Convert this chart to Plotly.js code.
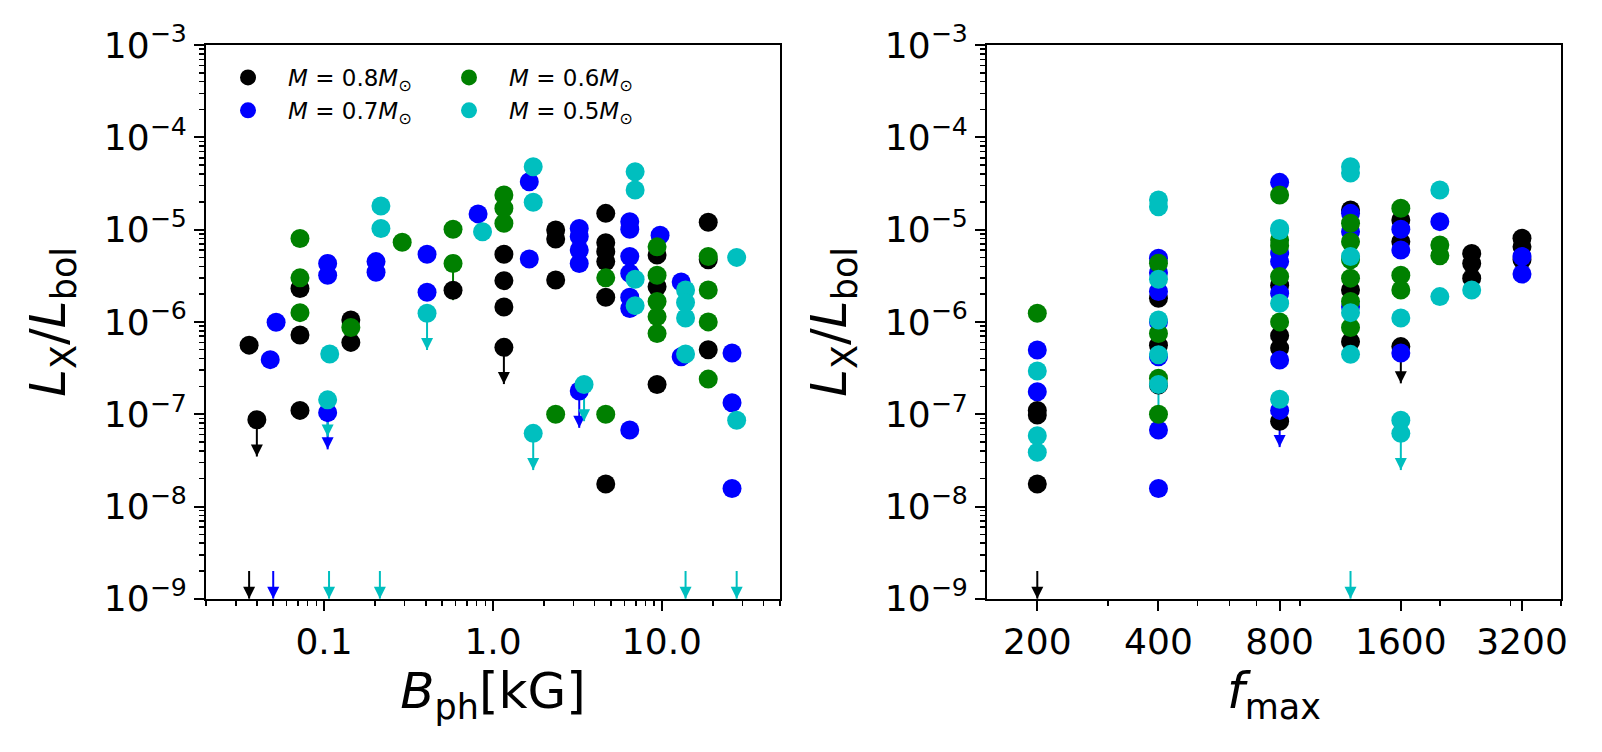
<!DOCTYPE html>
<html>
<head>
<meta charset="utf-8">
<script src="https://cdn.plot.ly/plotly-3.0.1.min.js"></script>
<style>
  html, body { margin: 0; padding: 0; background: #fff; }
  #chart { width: 1602px; height: 752px; }
</style>
</head>
<body>
<div id="chart"></div>
<script>
// L_X/L_bol against photospheric field (left) and f_max (right), by stellar mass.
// Upper limits (_ul) carry a down arrow; non-detections (_nd) are arrows on the bottom axis.

// ---- left panel: B_ph [kG] ----
const bph_08 = [0.036, 0.072, 0.072, 0.072, 0.144, 0.144, 0.58, 1.16, 1.16, 1.16, 2.35, 2.35, 2.35,
  4.65, 4.65, 4.65, 4.65, 4.65, 4.65, 9.36, 9.36, 9.36, 18.8, 18.8, 18.8];
const lx_08 = [5.6e-7, 2.3e-6, 7.2e-7, 1.1e-7, 1.05e-6, 6.0e-7, 2.2e-6, 5.4e-6, 2.8e-6, 1.45e-6, 9.9e-6, 7.9e-6, 2.85e-6,
  1.5e-5, 7.2e-6, 5.8e-6, 4.5e-6, 1.85e-6, 1.75e-8, 5.3e-6, 2.4e-6, 2.1e-7, 1.2e-5, 4.7e-6, 5.0e-7];
const bph_08_ul = [0.040, 1.16];
const lx_08_ul = [8.7e-8, 5.3e-7];
const bph_08_nd = [0.036];

const bph_07 = [0.048, 0.052, 0.105, 0.105, 0.203, 0.203, 0.407, 0.407, 0.816, 1.64, 1.64, 3.24, 3.24, 3.24, 3.24,
  6.45, 6.45, 6.45, 6.45, 6.45, 6.45, 6.45, 9.75, 13.0, 13.0, 26.0, 26.0, 26.0];
const lx_07 = [3.9e-7, 9.9e-7, 4.3e-6, 3.2e-6, 4.5e-6, 3.45e-6, 5.4e-6, 2.1e-6, 1.48e-5, 3.3e-5, 4.8e-6, 1.03e-5, 8.4e-6, 6.0e-6, 4.3e-6,
  1.22e-5, 1.01e-5, 5.1e-6, 3.36e-6, 1.85e-6, 1.4e-6, 6.75e-8, 8.7e-6, 2.7e-6, 4.2e-7, 4.6e-7, 1.33e-7, 1.57e-8];
const bph_07_ul = [0.105, 3.24];
const lx_07_ul = [1.04e-7, 1.78e-7];
const bph_07_nd = [0.05];

const bph_06 = [0.072, 0.072, 0.072, 0.144, 0.29, 0.58, 1.16, 1.16, 1.16, 2.35, 4.65, 4.65,
  9.36, 9.36, 9.36, 9.36, 9.36, 18.8, 18.8, 18.8, 18.8];
const lx_06 = [8.0e-6, 3.0e-6, 1.26e-6, 8.7e-7, 7.3e-6, 1.01e-5, 2.37e-5, 1.7e-5, 1.17e-5, 1.0e-7, 3.0e-6, 1.0e-7,
  6.5e-6, 3.2e-6, 1.66e-6, 1.14e-6, 7.5e-7, 5.1e-6, 2.22e-6, 1.0e-6, 2.4e-7];
const bph_06_ul = [0.58];
const lx_06_ul = [4.3e-6];
const bph_06_nd = [];

const bph_05 = [0.108, 0.217, 0.217, 0.867, 1.73, 1.73, 6.94, 6.94, 6.94, 6.94, 13.8, 13.8, 13.8, 13.8, 27.7, 27.7];
const lx_05 = [4.5e-7, 1.8e-5, 1.03e-5, 9.5e-6, 4.8e-5, 1.98e-5, 4.24e-5, 2.69e-5, 2.9e-6, 1.5e-6, 2.22e-6, 1.62e-6, 1.1e-6, 4.5e-7, 5.0e-6, 8.6e-8];
const bph_05_ul = [0.105, 0.407, 1.73, 3.46];
const lx_05_ul = [1.43e-7, 1.24e-6, 6.2e-8, 2.1e-7];
const bph_05_nd = [0.107, 0.214, 13.8, 27.7];

// ---- right panel: f_max ----
const fmax_08 = [200, 200, 200, 400, 400, 400, 800, 800, 800, 800, 1200, 1200, 1200, 1600, 1600,
  2400, 2400, 2400, 3200, 3200, 3200];
const lxf_08 = [1.1e-7, 9.8e-8, 1.75e-8, 1.8e-6, 5.6e-7, 2.07e-7, 2.5e-6, 7.1e-7, 5.2e-7, 8.4e-8, 1.63e-5, 2.22e-6, 6.1e-7, 1.27e-5, 7.4e-6,
  5.5e-6, 4.3e-6, 2.98e-6, 8.05e-6, 6.5e-6, 4.7e-6];
const fmax_08_ul = [1600];
const lxf_08_ul = [5.4e-7];
const fmax_08_nd = [200];

const fmax_07 = [200, 200, 400, 400, 400, 400, 400, 400, 400, 800, 800, 800, 800, 800,
  1200, 1200, 1200, 1600, 1600, 1600, 2000, 3200, 3200];
const lxf_07 = [4.96e-7, 1.75e-7, 4.89e-6, 3.4e-6, 2.13e-6, 1.0e-6, 4.2e-7, 6.75e-8, 1.57e-8, 3.25e-5, 5.6e-6, 4.5e-6, 2.05e-6, 3.87e-7,
  1.5e-5, 9.5e-6, 1.46e-6, 1.01e-5, 6.0e-6, 4.6e-7, 1.22e-5, 5.1e-6, 3.3e-6];
const fmax_07_ul = [800];
const lxf_07_ul = [1.1e-7];
const fmax_07_nd = [];

const fmax_06 = [200, 400, 400, 400, 400, 800, 800, 800, 800, 800,
  1200, 1200, 1200, 1200, 1200, 1200, 1600, 1600, 1600, 2000, 2000];
const lxf_06 = [1.24e-6, 4.31e-6, 7.5e-7, 2.45e-7, 1.0e-7, 2.37e-5, 7.7e-6, 6.7e-6, 3.1e-6, 1.0e-6,
  1.17e-5, 7.4e-6, 4.7e-6, 2.98e-6, 1.66e-6, 8.7e-7, 1.7e-5, 3.2e-6, 2.22e-6, 6.8e-6, 5.2e-6];
const fmax_06_ul = [];
const lxf_06_ul = [];
const fmax_06_nd = [];

const fmax_05 = [200, 200, 200, 400, 400, 400, 400, 400, 800, 800, 800, 800,
  1200, 1200, 1200, 1200, 1200, 1600, 1600, 2000, 2000, 2400];
const lxf_05 = [2.94e-7, 5.85e-8, 3.87e-8, 2.09e-5, 1.77e-5, 2.9e-6, 1.05e-6, 4.4e-7, 1.03e-5, 9.8e-6, 1.59e-6, 1.45e-7,
  4.8e-5, 4.1e-5, 5.1e-6, 1.26e-6, 4.45e-7, 1.1e-6, 8.6e-8, 2.69e-5, 1.88e-6, 2.22e-6];
const fmax_05_ul = [400, 1600];
const lxf_05_ul = [2.1e-7, 6.2e-8];
const fmax_05_nd = [1200];

const MASS_NAMES = [
  '<i>M</i> = 0.8<i>M</i><sub>⊙</sub>',
  '<i>M</i> = 0.7<i>M</i><sub>⊙</sub>',
  '<i>M</i> = 0.6<i>M</i><sub>⊙</sub>',
  '<i>M</i> = 0.5<i>M</i><sub>⊙</sub>'
];
const COLORS = ['#000000', '#0000ff', '#008000', '#00bfbf'];

const LX_TICKS = [1e-9, 1e-8, 1e-7, 1e-6, 1e-5, 1e-4, 1e-3];
const LX_LABELS = ['10<sup>−9</sup>', '10<sup>−8</sup>', '10<sup>−7</sup>', '10<sup>−6</sup>',
  '10<sup>−5</sup>', '10<sup>−4</sup>', '10<sup>−3</sup>'];
const BPH_TICKS = [0.1, 1, 10];
const BPH_LABELS = ['0.1', '1.0', '10.0'];
const FMAX_TICKS = [200, 400, 800, 1600, 3200];
const FMAX_LABELS = ['200', '400', '800', '1600', '3200'];

const UL_FACTOR = 0.4;     // arrow tip of an upper limit, relative to its value
const ND_TOP = 2e-9;       // where the non-detection arrows start
const Y_MIN = 1e-9;

const W = 1602, H = 752;
const FONT = 'DejaVu Sans, Arial, sans-serif';

const panels = [
  { xa: 'x', ya: 'y', sets: [
    [bph_08, lx_08, bph_08_ul, lx_08_ul, bph_08_nd],
    [bph_07, lx_07, bph_07_ul, lx_07_ul, bph_07_nd],
    [bph_06, lx_06, bph_06_ul, lx_06_ul, bph_06_nd],
    [bph_05, lx_05, bph_05_ul, lx_05_ul, bph_05_nd]] },
  { xa: 'x2', ya: 'y2', sets: [
    [fmax_08, lxf_08, fmax_08_ul, lxf_08_ul, fmax_08_nd],
    [fmax_07, lxf_07, fmax_07_ul, lxf_07_ul, fmax_07_nd],
    [fmax_06, lxf_06, fmax_06_ul, lxf_06_ul, fmax_06_nd],
    [fmax_05, lxf_05, fmax_05_ul, lxf_05_ul, fmax_05_nd]] }
];

// arrow = shaft line + arrow-down head whose tip sits on the end point
function arrowTraces(xs, tops, tips, color, xa, ya) {
  const sx = [], sy = [];
  xs.forEach(function (x, i) {
    sx.push(x, x, null);
    sy.push(tops[i], tips[i], null);
  });
  return [
    { x: sx, y: sy, xaxis: xa, yaxis: ya, mode: 'lines', type: 'scatter',
      line: { color: color, width: 2 }, hoverinfo: 'skip', showlegend: false, cliponaxis: false },
    { x: xs, y: tips, xaxis: xa, yaxis: ya, mode: 'markers', type: 'scatter',
      marker: { symbol: 'arrow-down', size: 12, color: color, line: { width: 0 } },
      hoverinfo: 'skip', showlegend: false, cliponaxis: false }
  ];
}

const arrows = [];
const points = [];
panels.forEach(function (p) {
  p.sets.forEach(function (s, m) {
    const [xd, yd, xu, yu, xn] = s;
    if (xu.length) {
      arrows.push(...arrowTraces(xu, yu, yu.map(v => v * UL_FACTOR), COLORS[m], p.xa, p.ya));
    }
    if (xn.length) {
      arrows.push(...arrowTraces(xn, xn.map(() => ND_TOP), xn.map(() => Y_MIN), COLORS[m], p.xa, p.ya));
    }
  });
});
// markers go above every arrow, like matplotlib errorbar zorder
[0, 1, 2, 3].forEach(function (m) {
  panels.forEach(function (p, pi) {
    const [xd, yd, xu, yu] = p.sets[m];
    points.push({
      x: xd.concat(xu), y: yd.concat(yu), xaxis: p.xa, yaxis: p.ya,
      mode: 'markers', type: 'scatter', name: MASS_NAMES[m],
      marker: { size: 19, color: COLORS[m], line: { width: 0 } },
      showlegend: pi === 0, legend: m < 2 ? 'legend' : 'legend2', legendgroup: 'm' + m
    });
  });
});

function minorVals(lo, hi) {
  const out = [];
  for (let e = lo; e <= hi; e++) {
    for (let k = 2; k <= 9; k++) out.push(k * Math.pow(10, e));
  }
  return out;
}

const tickFont = { family: FONT, size: 36, color: '#000' };
const titleFont = { family: FONT, size: 50, color: '#000' };

function xAxis(domain, range, tickvals, ticktext, minor, title, anchor) {
  return {
    type: 'log', domain: domain, range: range, anchor: anchor,
    tickmode: 'array', tickvals: tickvals, ticktext: ticktext,
    ticks: 'outside', ticklen: 10, tickwidth: 2, tickcolor: '#000',
    minor: { tickmode: 'array', tickvals: minor, ticks: 'outside', ticklen: 5, tickwidth: 1.5, tickcolor: '#000', showgrid: false },
    showline: true, linecolor: '#000', linewidth: 2, mirror: true,
    showgrid: false, zeroline: false, tickfont: tickFont,
    title: { text: title, font: titleFont, standoff: 6 }
  };
}

function yAxis(anchor) {
  return {
    type: 'log', domain: [1 - 598.8 / H, 1 - 45 / H], range: [-9, -3], anchor: anchor,
    tickmode: 'array', tickvals: LX_TICKS, ticktext: LX_LABELS,
    ticks: 'outside', ticklen: 10, tickwidth: 2, tickcolor: '#000',
    minor: { tickmode: 'array', tickvals: minorVals(-9, -4), ticks: 'outside', ticklen: 5, tickwidth: 1.5, tickcolor: '#000', showgrid: false },
    showline: true, linecolor: '#000', linewidth: 2, mirror: true,
    showgrid: false, zeroline: false, tickfont: tickFont,
    title: { text: '<i>L</i><sub>X</sub>/<i>L</i><sub>bol</sub>', font: titleFont, standoff: 22 }
  };
}

const legendBase = {
  xanchor: 'left', yanchor: 'top', bgcolor: 'rgba(0,0,0,0)', borderwidth: 0,
  font: { family: FONT, size: 23, color: '#000' }, itemsizing: 'trace',
  itemwidth: 70, tracegroupgap: 0
};

const layout = {
  width: W, height: H,
  margin: { l: 0, r: 0, t: 0, b: 0 },
  paper_bgcolor: '#fff', plot_bgcolor: '#fff',
  font: { family: FONT, color: '#000' },
  xaxis: xAxis([206 / W, 780 / W], [Math.log10(0.02), Math.log10(50)], BPH_TICKS, BPH_LABELS,
    minorVals(-2, 0).concat([20, 30, 40, 50]), '<i>B</i><sub>ph</sub>[kG]', 'y'),
  xaxis2: xAxis([987 / W, 1561 / W], [Math.log10(150), Math.log10(4000)], FMAX_TICKS, FMAX_LABELS,
    [300, 500, 600, 700, 900, 2000, 3000, 4000], '<i>f</i><sub>max</sub>', 'y2'),
  yaxis: yAxis('x'),
  yaxis2: yAxis('x2'),
  legend: Object.assign({ x: 208 / W, y: 1 - 56 / H }, legendBase),
  legend2: Object.assign({ x: 429 / W, y: 1 - 56 / H }, legendBase),
  showlegend: true
};

Plotly.newPlot('chart', arrows.concat(points), layout, { displayModeBar: false, staticPlot: true });
</script>
</body>
</html>
